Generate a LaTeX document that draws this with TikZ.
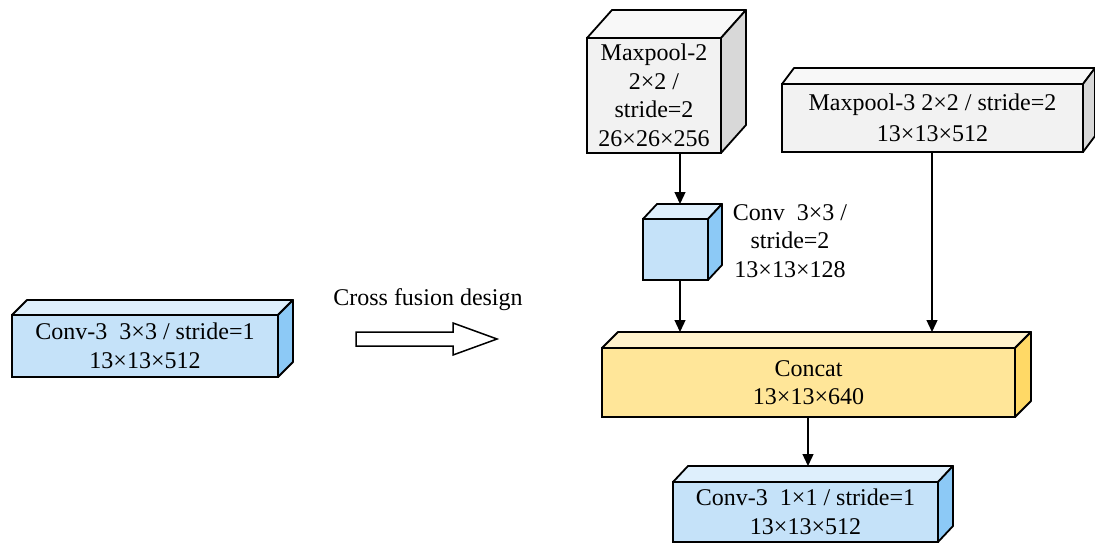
\documentclass[tikz,border=0pt]{standalone}
\usepackage{fontspec}
\setmainfont{Liberation Serif}
\newfontfamily\tnrfont{Liberation Serif}
\usetikzlibrary{arrows.meta,calc}
\definecolor{bluefront}{RGB}{197,226,249}
\definecolor{bluetop}{RGB}{222,239,252}
\definecolor{blueside}{RGB}{140,201,246}
\definecolor{grayfront}{RGB}{242,242,242}
\definecolor{graytop}{RGB}{248,248,248}
\definecolor{grayside}{RGB}{216,216,216}
\definecolor{yellowfront}{RGB}{255,230,153}
\definecolor{yellowtop}{RGB}{255,242,204}
\definecolor{yellowside}{RGB}{255,217,102}
\tikzset{
  cubeedge/.style={draw=black, line width=1.8pt, line join=round},
  cubefront/.style={draw=black, line width=1.8pt, inner sep=0pt, outer sep=0pt,
    align=center, font=\tnrfont\fontsize{24}{28.5}\selectfont},
  lbl/.style={align=center, inner sep=0pt, font=\tnrfont\fontsize{24}{28.5}\selectfont},
  arr/.style={line width=1.3pt, -{Triangle[length=12pt,width=11pt]}},
}
% name, palette, x, y, w, h, offset, text
\newcommand\drawcube[8]{%
  \node[cubefront, fill=#2front, minimum width=#5pt, minimum height=#6pt,
        anchor=north west] (#1) at (#3,#4) {#8};
  \filldraw[cubeedge, fill=#2top] (#1.north west) -- ++#7 -- ($(#1.north east)+#7$)
     -- (#1.north east) -- cycle;
  \filldraw[cubeedge, fill=#2side] (#1.north east) -- ++#7 -- ($(#1.south east)+#7$)
     -- (#1.south east) -- cycle;
}
\begin{document}
\begin{tikzpicture}[x=1pt,y=-1pt]
\useasboundingbox (0,0) rectangle (1095,543);

\drawcube{lb}{blue}{12}{315}{266}{62}{(15,-15)}{Conv-3\ \ 3×3 / stride=1\\13×13×512}
\drawcube{mpa}{gray}{587}{38}{134}{115}{(25,-28)}{Maxpool-2\\2×2 /\\stride=2\\26×26×256}
\drawcube{mpb}{gray}{782}{84}{301}{68}{(12,-16)}{Maxpool-3 2×2 / stride=2\\[2pt]13×13×512}
\drawcube{cv}{blue}{643}{219}{65}{61}{(14,-15)}{}
\drawcube{cc}{yellow}{602}{348}{413}{69}{(16,-16)}{Concat\\13×13×640}
\drawcube{bt}{blue}{673}{482}{265}{60}{(15,-16)}{Conv-3\ \ 1×1 / stride=1\\13×13×512}

\node[lbl] (cvl) at (790,241) {Conv\ \ 3×3 /\\stride=2\\13×13×128};
\node[lbl] (ct) at (428,300) {Cross fusion design};

\draw[line width=1.5pt, fill=white, line join=miter]
  (356,332) -- (453,332) -- (453,323) -- (497,339) -- (453,355) -- (453,346) -- (356,346) -- cycle;

\coordinate (a1) at (680,204);
\coordinate (a2) at (680,332);
\coordinate (a3) at (932,332);
\coordinate (a4) at (808,466);
\draw[arr] (mpa.south -| a1) -- (a1);
\draw[arr] (cv.south -| a2) -- (a2);
\draw[arr] (mpb.south -| a3) -- (a3);
\draw[arr] (cc.south -| a4) -- (a4);
\end{tikzpicture}
\end{document}
